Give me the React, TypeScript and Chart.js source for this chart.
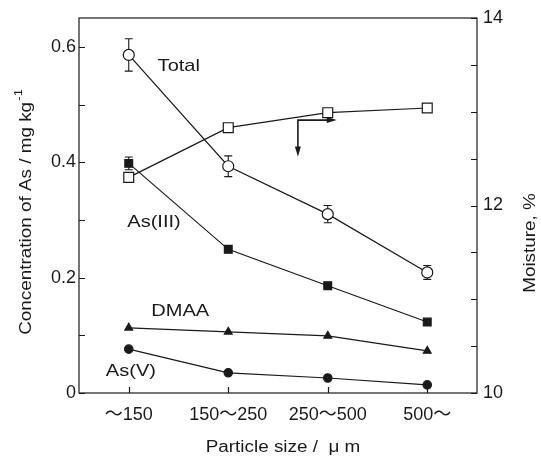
import React, { useEffect, useRef } from "react";
import { Chart, registerables } from "chart.js";

Chart.register(...registerables);

const categories = ["～150", "150～250", "250～500", "500～"];
const totalAs = [0.586, 0.393, 0.31, 0.209];
const totalErr = [0.028, 0.018, 0.015, 0.012];
const as3 = [0.398, 0.249, 0.186, 0.123];
const as3Err = [0.011, 0, 0, 0];
const dmaa = [0.113, 0.106, 0.099, 0.073];
const as5 = [0.076, 0.035, 0.026, 0.014];
const moisture = [12.3, 12.83, 12.99, 13.04];

const seriesLabels = [
  { text: "Total", x: 0.29, y: 0.567 },
  { text: "As(III)", x: -0.015, y: 0.296 },
  { text: "DMAA", x: 0.226, y: 0.141 },
  { text: "As(V)", x: -0.23, y: 0.038 },
];
const arrow = { x0: 1.7, x1: 2.09, y0: 0.473, y1: 0.41 };

const FONT = "'Liberation Sans', 'Noto Sans CJK JP', sans-serif";
const INK = "#1a1a1a";
const SX = 1.18;

function stretchedText(ctx: any, text: string, x: number, y: number, align: "left" | "center") {
  ctx.save();
  ctx.translate(x, y);
  ctx.scale(SX, 1);
  ctx.textAlign = align;
  ctx.fillText(text, 0, 0);
  ctx.restore();
}

const overlay = {
  id: "overlay",
  beforeDatasetsDraw(chart: any) {
    const ctx = chart.ctx;
    const x = chart.scales.x;
    const y = chart.scales.y;
    ctx.save();
    ctx.strokeStyle = INK;
    ctx.lineWidth = 1.1;
    const bars = (vals: number[], errs: number[]) => {
      vals.forEach((v, i) => {
        if (!errs[i]) return;
        const px = x.getPixelForValue(i);
        const top = y.getPixelForValue(v + errs[i]);
        const bot = y.getPixelForValue(v - errs[i]);
        ctx.beginPath();
        ctx.moveTo(px, top);
        ctx.lineTo(px, bot);
        ctx.moveTo(px - 4, top);
        ctx.lineTo(px + 4, top);
        ctx.moveTo(px - 4, bot);
        ctx.lineTo(px + 4, bot);
        ctx.stroke();
      });
    };
    bars(totalAs, totalErr);
    bars(as3, as3Err);
    ctx.restore();
  },
  afterDraw(chart: any) {
    const ctx = chart.ctx;
    const a = chart.chartArea;
    const x = chart.scales.x;
    const y = chart.scales.y;
    const y1 = chart.scales.y1;
    ctx.save();
    ctx.strokeStyle = INK;
    ctx.lineWidth = 1.2;
    ctx.strokeRect(a.left, a.top, a.right - a.left, a.bottom - a.top);
    ctx.beginPath();
    for (let v = 0; v <= 0.6001; v += 0.1) {
      const py = Math.round(y.getPixelForValue(v)) + 0.5;
      ctx.moveTo(a.left, py);
      ctx.lineTo(a.left + 6, py);
    }
    for (let v = 10; v <= 14.001; v += 0.5) {
      const py = Math.round(y1.getPixelForValue(v)) + 0.5;
      ctx.moveTo(a.right, py);
      ctx.lineTo(a.right - 6, py);
    }
    categories.forEach((_, i) => {
      const px = Math.round(x.getPixelForValue(i)) + 0.5;
      ctx.moveTo(px, a.bottom);
      ctx.lineTo(px, a.bottom - 6);
    });
    ctx.stroke();

    // arrow annotation
    const ax0 = x.getPixelForValue(arrow.x0);
    const ax1 = x.getPixelForValue(arrow.x1);
    const ay0 = y.getPixelForValue(arrow.y0);
    const ay1 = y.getPixelForValue(arrow.y1);
    ctx.lineWidth = 1.6;
    ctx.beginPath();
    ctx.moveTo(ax1 - 8, ay0);
    ctx.lineTo(ax0, ay0);
    ctx.lineTo(ax0, ay1 - 8);
    ctx.stroke();
    ctx.fillStyle = INK;
    ctx.beginPath();
    ctx.moveTo(ax1, ay0);
    ctx.lineTo(ax1 - 10, ay0 - 3);
    ctx.lineTo(ax1 - 10, ay0 + 3);
    ctx.closePath();
    ctx.fill();
    ctx.beginPath();
    ctx.moveTo(ax0, ay1);
    ctx.lineTo(ax0 - 3, ay1 - 10);
    ctx.lineTo(ax0 + 3, ay1 - 10);
    ctx.closePath();
    ctx.fill();

    // series labels
    ctx.fillStyle = INK;
    ctx.font = `17px ${FONT}`;
    ctx.textBaseline = "middle";
    seriesLabels.forEach((l) => {
      stretchedText(ctx, l.text, x.getPixelForValue(l.x), y.getPixelForValue(l.y), "left");
    });

    // axis titles
    ctx.font = `16px ${FONT}`;
    stretchedText(ctx, "Particle size /  \u03bc m", 283, 448, "center");

    ctx.save();
    ctx.translate(27, 212);
    ctx.rotate(-Math.PI / 2);
    ctx.scale(SX, 1);
    const main = "Concentration of As / mg kg";
    const sup = "-1";
    ctx.font = `16px ${FONT}`;
    const wMain = ctx.measureText(main).width;
    ctx.font = `11px ${FONT}`;
    const wSup = ctx.measureText(sup).width;
    const start = -(wMain + wSup + 1) / 2;
    ctx.textAlign = "left";
    ctx.font = `16px ${FONT}`;
    ctx.fillText(main, start, 0);
    ctx.font = `11px ${FONT}`;
    ctx.fillText(sup, start + wMain + 1, -8);
    ctx.restore();

    ctx.save();
    ctx.translate(531, 243);
    ctx.rotate(-Math.PI / 2);
    ctx.scale(SX, 1);
    ctx.font = `16px ${FONT}`;
    ctx.textAlign = "center";
    ctx.fillText("Moisture, %", 0, 0);
    ctx.restore();
    ctx.restore();
  },
};

export default function App() {
  const ref = useRef<HTMLCanvasElement>(null);
  useEffect(() => {
    if (!ref.current) return;
    const line = { borderColor: INK, borderWidth: 1.2, pointBorderColor: INK, pointBorderWidth: 1.2 };
    const chart = new Chart(ref.current, {
      type: "line",
      data: {
        labels: categories,
        datasets: [
          { ...line, label: "Total", data: totalAs, yAxisID: "y", pointStyle: "circle", pointRadius: 5.5, pointBackgroundColor: "#fff" },
          { ...line, label: "As(III)", data: as3, yAxisID: "y", pointStyle: "rect", pointRadius: 5.5, pointBackgroundColor: INK },
          { ...line, label: "DMAA", data: dmaa, yAxisID: "y", pointStyle: "triangle", pointRadius: 4.5, pointBackgroundColor: INK },
          { ...line, label: "As(V)", data: as5, yAxisID: "y", pointStyle: "circle", pointRadius: 4.2, pointBackgroundColor: INK },
          { ...line, label: "Moisture", data: moisture, yAxisID: "y1", pointStyle: "rect", pointRadius: 7, pointBackgroundColor: "#fff" },
        ],
      },
      options: {
        animation: false,
        responsive: false,
        maintainAspectRatio: false,
        layout: { padding: { top: 18, left: 0, right: 0, bottom: 0 } },
        plugins: { legend: { display: false }, tooltip: { enabled: false } },
        scales: {
          x: {
            type: "category",
            offset: true,
            grid: { display: false, drawTicks: false },
            border: { display: false },
            ticks: { color: INK, font: { size: 18, family: FONT }, padding: 11, maxRotation: 0 },
            afterFit: (s: any) => { s.height = 67; },
          },
          y: {
            position: "left",
            min: 0,
            max: 0.65,
            grid: { display: false, drawTicks: false },
            border: { display: false },
            ticks: {
              stepSize: 0.1,
              color: INK,
              padding: 3,
              font: { size: 18, family: FONT },
              callback: (v: any) => {
                const n = Math.round(Number(v) * 10);
                if (n % 2 !== 0) return "";
                return n === 0 ? "0" : (n / 10).toFixed(1);
              },
            },
            afterFit: (s: any) => { s.width = 79; },
          },
          y1: {
            position: "right",
            min: 10,
            max: 14,
            grid: { display: false, drawTicks: false },
            border: { display: false },
            ticks: {
              stepSize: 0.5,
              color: INK,
              padding: 6,
              font: { size: 18, family: FONT },
              callback: (v: any) => (Number(v) % 2 === 0 ? String(v) : ""),
            },
            afterFit: (s: any) => { s.width = 64; },
          },
        },
      },
      plugins: [overlay],
    } as any);
    return () => chart.destroy();
  }, []);
  return (
    <div style={{ position: "absolute", left: 0, top: 0, width: 541, height: 460, background: "#fff" }}>
      <canvas ref={ref} width={541} height={460} style={{ width: 541, height: 460 }} />
    </div>
  );
}
